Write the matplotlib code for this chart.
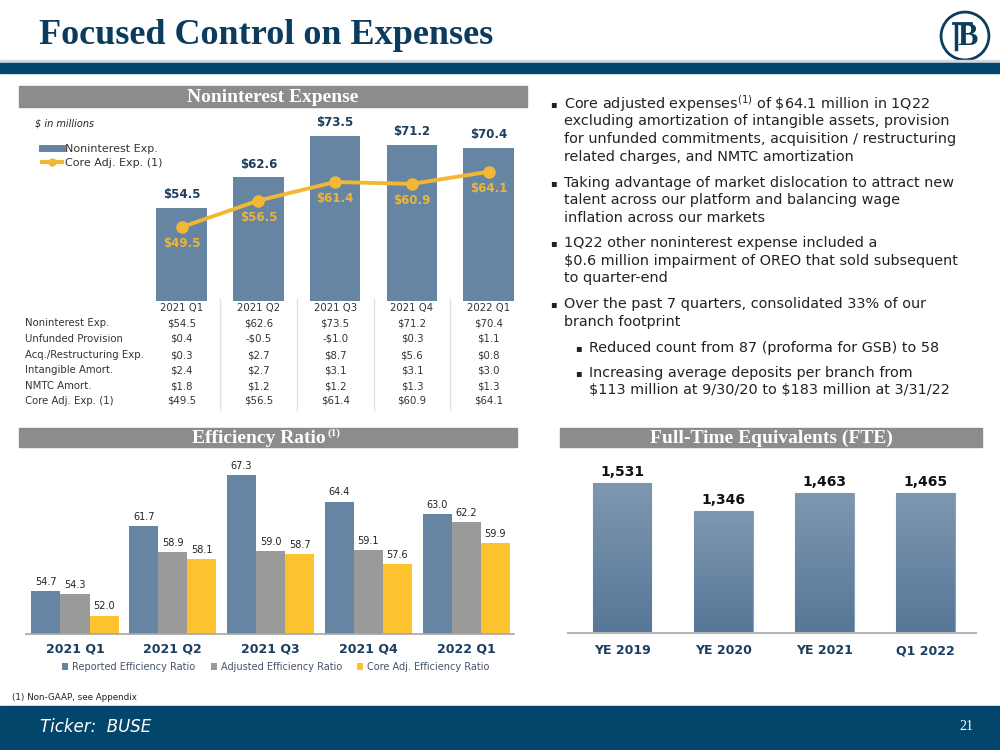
import matplotlib.pyplot as plt
import matplotlib.transforms as mtransforms
from matplotlib.patches import Rectangle, Circle
from matplotlib.lines import Line2D
from matplotlib.colors import LinearSegmentedColormap
import numpy as np

# ---- data
quarters = ['2021 Q1', '2021 Q2', '2021 Q3', '2021 Q4', '2022 Q1']
nonint_exp = [54.5, 62.6, 73.5, 71.2, 70.4]
core_adj_exp = [49.5, 56.5, 61.4, 60.9, 64.1]

row_names = ['Noninterest Exp.', 'Unfunded Provision', 'Acq./Restructuring Exp.',
             'Intangible Amort.', 'NMTC Amort.', 'Core Adj. Exp. (1)']
unfunded = [0.4, -0.5, -1.0, 0.3, 1.1]
acq_restr = [0.3, 2.7, 8.7, 5.6, 0.8]
intangible = [2.4, 2.7, 3.1, 3.1, 3.0]
nmtc = [1.8, 1.2, 1.2, 1.3, 1.3]

reported_eff = [54.7, 61.7, 67.3, 64.4, 63.0]
adjusted_eff = [54.3, 58.9, 59.0, 59.1, 62.2]
core_eff = [52.0, 58.1, 58.7, 57.6, 59.9]
eff_names = ['Reported Efficiency Ratio', 'Adjusted Efficiency Ratio', 'Core Adj. Efficiency Ratio']

fte_labels = ['YE 2019', 'YE 2020', 'YE 2021', 'Q1 2022']
fte = [1531, 1346, 1463, 1465]

bullets = [
    (0, ['Core adjusted expenses$^{(1)}$ of \\$64.1 million in 1Q22',
         'excluding amortization of intangible assets, provision',
         'for unfunded commitments, acquisition / restructuring',
         'related charges, and NMTC amortization']),
    (0, ['Taking advantage of market dislocation to attract new',
         'talent across our platform and balancing wage',
         'inflation across our markets']),
    (0, ['1Q22 other noninterest expense included a',
         '\\$0.6 million impairment of OREO that sold subsequent',
         'to quarter-end']),
    (0, ['Over the past 7 quarters, consolidated 33% of our',
         'branch footprint']),
    (1, ['Reduced count from 87 (proforma for GSB) to 58']),
    (1, ['Increasing average deposits per branch from',
         '\\$113 million at 9/30/20 to \\$183 million at 3/31/22']),
]
bullet_y = [[104, 121, 139, 157], [183, 200, 218], [243, 261, 278], [304, 322], [348], [373, 390]]

# ---- colours
navy = '#0b3c5d'
band = '#03466c'
hdr_gray = '#8c8c8c'
steel = '#6685a3'
gold = '#f3b833'
gold_txt = '#e9b53c'
eff_gray = '#9a9a9a'
eff_gold = '#fcc32e'

W, H = 1000, 750


def box(x0, y0, x1, y1):
    return [x0 / W, 1 - y1 / H, (x1 - x0) / W, (y1 - y0) / H]


def fx(x):
    return x / W


def fy(y):
    return 1 - y / H


fig = plt.figure(figsize=(10, 7.5), dpi=100)


def rect(x0, y0, x1, y1, color):
    fig.patches.append(Rectangle((fx(x0), fy(y1)), (x1 - x0) / W, (y1 - y0) / H,
                                 transform=fig.transFigure, color=color, zorder=0))


# ---- header / footer
fig.text(fx(39), fy(36), 'Focused Control on Expenses', family='Liberation Serif',
         fontweight='bold', fontsize=26, color=navy, va='center', ha='left')
rect(0, 60, 1000, 61.5, '#d0d8e0')
rect(0, 63, 1000, 73, band)
rect(0, 706, 1000, 750, band)
fig.text(fx(40), fy(727), 'Ticker:  BUSE', color='white', fontsize=12, style='italic', va='center')
fig.text(fx(966), fy(727), '21', color='white', fontsize=10, family='Liberation Serif', ha='center', va='center')
fig.text(fx(12), fy(698), '(1) Non-GAAP, see Appendix', fontsize=6.3, color='#222222', va='center')

# logo
axl = fig.add_axes(box(938, 10, 992, 62))
axl.set_xlim(0, 1)
axl.set_ylim(0, 1)
axl.set_aspect('equal')
axl.axis('off')
axl.add_patch(Circle((0.5, 0.5), 0.46, fill=False, ec=navy, lw=2))
axl.text(0.55, 0.48, 'B', family='Liberation Serif', fontweight='bold', fontsize=22,
         color=navy, ha='center', va='center')
axl.plot([0.33, 0.33], [0.25, 0.72], color=navy, lw=2.5)
axl.plot([0.26, 0.62], [0.75, 0.75], color=navy, lw=2)

# ---- section headers
def header(x0, x1, y0, y1, txt, tx=None):
    rect(x0, y0, x1, y1, hdr_gray)
    if tx is None:
        fig.text(fx((x0 + x1) / 2), fy((y0 + y1) / 2 + 1), txt, color='white', fontsize=14,
                 family='Liberation Serif', fontweight='bold', ha='center', va='center')
    else:
        fig.text(fx(tx), fy((y0 + y1) / 2 + 1), txt, color='white', fontsize=14,
                 family='Liberation Serif', fontweight='bold', ha='left', va='center')


header(19, 527, 86, 107, 'Noninterest Expense')
header(19, 517, 428, 447, 'Efficiency Ratio', tx=192)
fig.text(fx(327), fy(433), '(1)', color='white', fontsize=8, family='Liberation Serif',
         fontweight='bold', va='center')
header(560, 982, 428, 447, 'Full-Time Equivalents (FTE)')

# ---- noninterest expense chart
ax1 = fig.add_axes(box(19, 110, 527, 301))
x = np.arange(len(quarters))
ax1.bar(x, nonint_exp, width=0.66, color=steel, zorder=2)
ax1.plot(x, core_adj_exp, color=gold, lw=2.8, marker='o', ms=8, zorder=3)
ax1.set_xlim(-2.12, 4.5)
ax1.set_ylim(30, 80.4)
ax1.axis('off')
for i, v in enumerate(nonint_exp):
    ax1.annotate(f'\\${v:.1f}', (i, v), xytext=(0, 5), textcoords='offset points',
                 ha='center', va='bottom', fontsize=8.5, fontweight='bold', color='#1b3d5f')
for i, v in enumerate(core_adj_exp):
    ax1.annotate(f'\\${v:.1f}', (i, v), xytext=(0, -12), textcoords='offset points',
                 ha='center', va='center', fontsize=8.5, fontweight='bold', color=gold_txt)
fig.text(fx(35), fy(124), '$ in millions', fontsize=7, style='italic', color='#222222', va='center')
handles = [Line2D([], [], color=steel, lw=5),
           Line2D([], [], color=gold, lw=3, marker='o', ms=5)]
fig.legend(handles, ['Noninterest Exp.', 'Core Adj. Exp. (1)'], loc='upper left',
           bbox_to_anchor=(fx(32), fy(134)), frameon=False, fontsize=8,
           handlelength=1.8, handletextpad=0.25, labelspacing=0.35, labelcolor='#333333')

# table
tr = mtransforms.blended_transform_factory(ax1.transData, fig.transFigure)
table_vals = [nonint_exp, unfunded, acq_restr, intangible, nmtc, core_adj_exp]
row_y = [323, 339, 355, 370, 386, 401]
for i, q in enumerate(quarters):
    fig.text(i, fy(308), q, transform=tr, ha='center', va='center', fontsize=7.3, color='#333333')
for name, vals, yy in zip(row_names, table_vals, row_y):
    fig.text(fx(25), fy(yy), name, ha='left', va='center', fontsize=7.3, color='#333333')
    for i, v in enumerate(vals):
        s = f'-\\${abs(v):.1f}' if v < 0 else f'\\${v:.1f}'
        fig.text(i, fy(yy), s, transform=tr, ha='center', va='center', fontsize=7.3, color='#333333')
for i in range(len(quarters) - 1):
    fig.lines.append(Line2D([i + 0.5, i + 0.5], [fy(299), fy(410)], transform=tr,
                            color='#dbe3ec', lw=1))

# ---- efficiency ratio chart
ax2 = fig.add_axes(box(26, 450, 514, 634))
w = 0.297
series = [reported_eff, adjusted_eff, core_eff]
cols = [steel, eff_gray, eff_gold]
for k, (vals, c) in enumerate(zip(series, cols)):
    xs = x + (k - 1) * w
    ax2.bar(xs, [v - 50 for v in vals], bottom=50, width=w, color=c, label=eff_names[k])
    for xi, v in zip(xs, vals):
        ax2.annotate(f'{v:.1f}', (xi, v), xytext=(0, 3), textcoords='offset points',
                     ha='center', va='bottom', fontsize=7, color='#222222')
ax2.set_xlim(-0.501, 4.49)
ax2.set_ylim(50, 70)
for s in ['top', 'left', 'right']:
    ax2.spines[s].set_visible(False)
ax2.spines['bottom'].set_color('#a6a6a6')
ax2.spines['bottom'].set_linewidth(1.2)
ax2.set_yticks([])
ax2.set_xticks(x)
ax2.set_xticklabels(quarters, fontsize=9, fontweight='bold', color='#1b3d5f')
ax2.tick_params(axis='x', length=0, pad=6)
fig.legend(*ax2.get_legend_handles_labels(), loc='center', bbox_to_anchor=(fx(276), fy(667)),
           ncol=3, frameon=False, fontsize=7, handlelength=0.6, handleheight=0.6,
           handletextpad=0.4, columnspacing=1.6, labelcolor='#44546a')

# ---- FTE chart
ax3 = fig.add_axes(box(568, 455, 976, 633))
x4 = np.arange(len(fte_labels))
bars = ax3.bar(x4, fte, width=0.58, color='none', edgecolor='#8aa3bb', lw=0.8)
cmap = LinearSegmentedColormap.from_list('fte', ['#567797', '#7e97b1'])
grad = np.linspace(0, 1, 100).reshape(-1, 1)
for b in bars:
    im = ax3.imshow(grad, cmap=cmap, origin='lower', aspect='auto',
                    extent=[b.get_x(), b.get_x() + b.get_width(), 540, b.get_height()], zorder=1)
    im.set_clip_path(b)
for i, v in enumerate(fte):
    ax3.annotate(f'{v:,}', (i, v), xytext=(0, 3), textcoords='offset points',
                 ha='center', va='bottom', fontsize=10, fontweight='bold', color='#111111')
ax3.set_xlim(-0.535, 3.5)
ax3.set_ylim(540, 1716)
for s in ['top', 'left', 'right']:
    ax3.spines[s].set_visible(False)
ax3.spines['bottom'].set_color('#b3b3b3')
ax3.spines['bottom'].set_linewidth(1.5)
ax3.set_yticks([])
ax3.set_xticks(x4)
ax3.set_xticklabels(fte_labels, fontsize=9, fontweight='bold', color='#1b3d5f')
ax3.tick_params(axis='x', length=0, pad=8)

# ---- bullet text
for (lvl, lines), ys in zip(bullets, bullet_y):
    bx, tx = (553, 564) if lvl == 0 else (578, 589)
    fig.text(fx(bx), fy(ys[0]), '\u25aa', fontsize=7, color='#222222', va='center', ha='center')
    for ln, yy in zip(lines, ys):
        fig.text(fx(tx), fy(yy), ln, fontsize=10.4, color='#222222', va='center', ha='left')

fig.savefig('out.png', dpi=100)
